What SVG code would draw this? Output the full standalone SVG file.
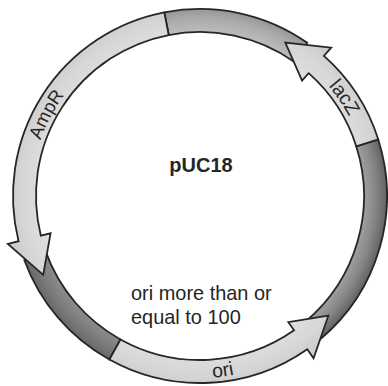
<svg xmlns="http://www.w3.org/2000/svg" width="388" height="386" viewBox="0 0 388 386">
<style>
.seg{stroke:#262626;stroke-width:1.8;stroke-linejoin:miter}
.lbl{font-family:"Liberation Sans",Arial,sans-serif;fill:#262626}
</style>
<defs>
<radialGradient id="tube" gradientUnits="userSpaceOnUse" cx="200" cy="196" r="187">
<stop offset="0.87" stop-color="#a2a2a2"/>
<stop offset="0.94" stop-color="#868686"/>
<stop offset="1" stop-color="#626262"/>
</radialGradient>
<radialGradient id="tubeL" gradientUnits="userSpaceOnUse" cx="200" cy="196" r="187">
<stop offset="0.87" stop-color="#8e8e8e"/>
<stop offset="0.94" stop-color="#7c7c7c"/>
<stop offset="1" stop-color="#686868"/>
</radialGradient>
<radialGradient id="top" gradientUnits="userSpaceOnUse" cx="200" cy="196" r="187">
<stop offset="0.87" stop-color="#bdbdbd"/>
<stop offset="0.95" stop-color="#ababab"/>
<stop offset="1" stop-color="#969696"/>
</radialGradient>
<radialGradient id="light" gradientUnits="userSpaceOnUse" cx="200" cy="196" r="198">
<stop offset="0.78" stop-color="#e0e0e0"/>
<stop offset="0.9" stop-color="#d6d6d6"/>
<stop offset="1" stop-color="#c8c8c8"/>
</radialGradient>
<path id="tpAmpR" d="M31.23,187.15 A169,169 0 0 1 98.29,61.03"/>
<path id="tpLacZ" d="M298.62,58.76 A169,169 0 0 1 363.76,154.26"/>
<path id="tpOri" d="M160.30,373.62 A182,182 0 0 0 283.76,357.58"/>
</defs>
<rect width="388" height="386" fill="#ffffff"/>
<g id="backbone">
<path id="seg-top" class="seg" fill="url(#top)" d="M164.32,12.44 A187,187 0 0 1 307.26,42.82 L294.07,61.66 A164,164 0 0 0 168.71,35.01 Z"/>
<path id="seg-right" class="seg" fill="url(#tube)" d="M378.25,139.46 A187,187 0 0 1 320.20,339.25 L305.42,321.63 A164,164 0 0 0 356.32,146.41 Z"/>
<path id="seg-left" class="seg" fill="url(#tubeL)" d="M109.34,359.55 A187,187 0 0 1 24.28,259.96 L45.89,252.09 A164,164 0 0 0 120.49,339.44 Z"/>
</g>
<g id="lacZ">
<path class="seg" fill="url(#light)" d="M378.25,139.46 A187,187 0 0 0 323.91,55.94 L331.20,47.71 L285.34,42.65 L302.04,80.66 L308.67,73.17 A164,164 0 0 1 356.32,146.41 Z"/>
<text class="lbl" font-size="19.5"><textPath href="#tpLacZ" startOffset="50%" text-anchor="middle">lacZ</textPath></text>
</g>
<g id="ori">
<path class="seg" fill="url(#light)" d="M109.34,359.55 A187,187 0 0 0 307.26,349.18 L313.57,358.19 L328.35,315.69 L288.33,322.15 L294.07,330.34 A164,164 0 0 1 120.49,339.44 Z"/>
<text class="lbl" font-size="19.5"><textPath href="#tpOri" startOffset="50%" text-anchor="middle">ori</textPath></text>
</g>
<g id="AmpR">
<path class="seg" fill="url(#light)" d="M164.32,12.44 A187,187 0 0 0 18.55,241.24 L7.88,243.90 L43.21,274.86 L50.57,233.26 L40.87,235.67 A164,164 0 0 1 168.71,35.01 Z"/>
<text class="lbl" font-size="18.5"><textPath href="#tpAmpR" startOffset="50%" text-anchor="middle">AmpR</textPath></text>
</g>
<g id="title">
<text class="lbl" x="201" y="172" font-size="20" font-weight="bold" text-anchor="middle">pUC18</text>
</g>
<g id="note" transform="scale(0.95,1)">
<text class="lbl" x="137.9" y="300" font-size="21">ori more than or</text>
<text class="lbl" x="137.9" y="324" font-size="21">equal to 100</text>
</g>
</svg>
